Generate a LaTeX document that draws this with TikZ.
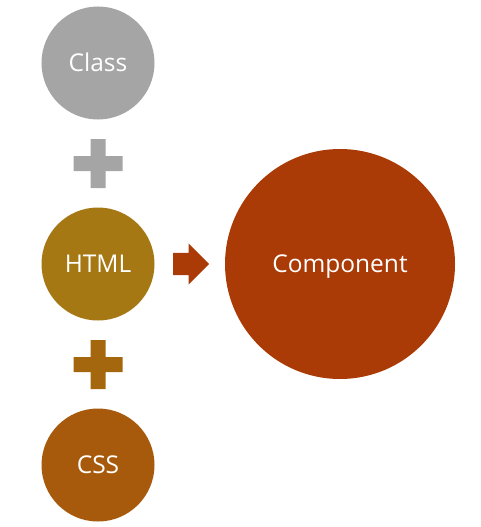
\documentclass[tikz,border=0pt]{standalone}
\usepackage{fontspec}
\setmainfont{Open Sans}
\usepackage{tikz}
\usetikzlibrary{shapes.arrows, calc}

\definecolor{classgray}{HTML}{A5A5A5}
\definecolor{htmlgold}{HTML}{A67814}
\definecolor{plusbrown}{HTML}{A5670E}
\definecolor{cssbrown}{HTML}{A85A0C}
\definecolor{comprust}{HTML}{AA3A06}

\tikzset{
    bubble/.style={circle, inner sep=0pt, minimum size=113pt, text=white,
                   text height=17.5pt, text depth=0pt,
                   font=\fontsize{24.5}{28}\selectfont},
    plussign/.pic={\fill (-24.5,-7.5) rectangle (24.5,7.5)
                         (-7.5,-24.5) rectangle (7.5,24.5);}
}

\begin{document}
\begin{tikzpicture}[x=1pt, y=-1pt, node distance=201pt]
        \useasboundingbox (0,0) rectangle (480,527);

        \node (class) [bubble, fill=classgray] at (98,63) {Class};
        \node (html)  [bubble, fill=htmlgold, below of=class] {HTML};
        \node (css)   [bubble, fill=cssbrown, below of=html]  {CSS};
        \node (comp)  [bubble, fill=comprust, minimum size=230pt,
                       right of=html, node distance=242pt] {Component};

        \coordinate (plusA) at ($(class)!0.5!(html)$);
        \coordinate (plusB) at ($(html)!0.5!(css)$);
        \pic[classgray]  at (plusA) {plussign};
        \pic[plusbrown]  at (plusB) {plussign};

        \node (arr) [single arrow, fill=comprust, inner sep=0pt,
                     text height=11pt, text depth=11pt, text width=0pt,
                     minimum height=36pt, anchor=tail,
                     single arrow head extend=9.5pt, single arrow head indent=0pt]
              at (173,264) {};
    \end{tikzpicture}
\end{document}
